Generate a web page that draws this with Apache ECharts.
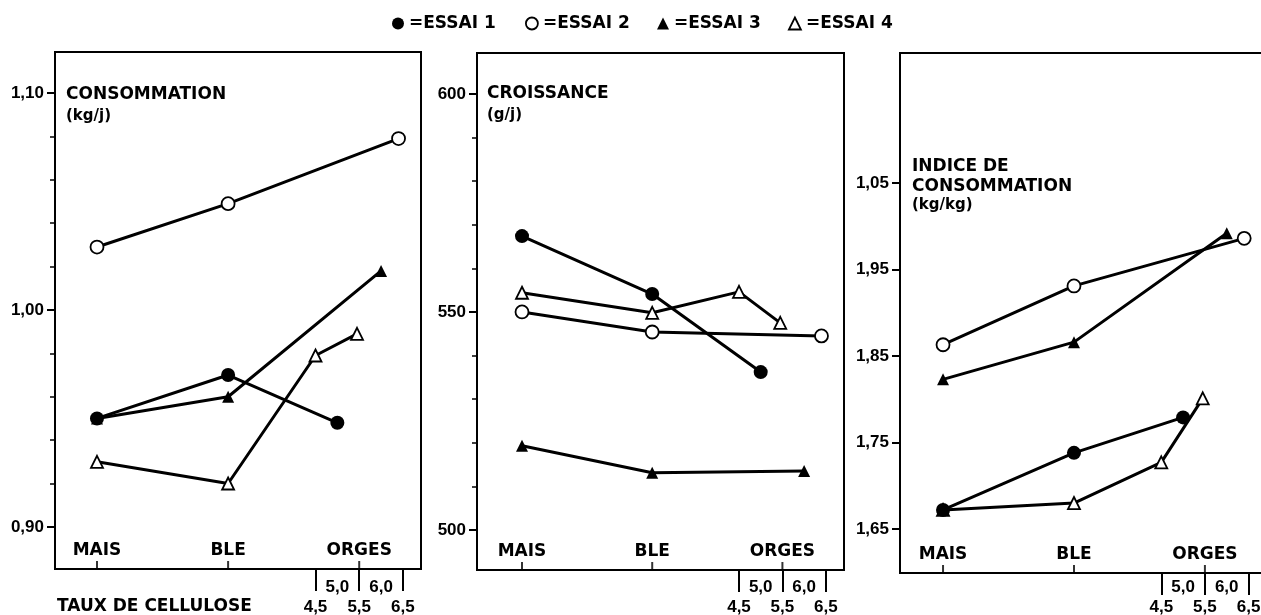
<!DOCTYPE html>
<html>
<head>
<meta charset="utf-8">
<script src="https://cdn.jsdelivr.net/npm/echarts@6/dist/echarts.min.js"></script>
<style>
html, body { margin: 0; padding: 0; background: #fff; }
#chart { width: 1261px; height: 615px; }
</style>
</head>
<body>
<div id="chart"></div>
<script>
// axe x : MAIS=0, BLE=3, orges placees par leur taux de cellulose (+0.5)
const cereals = ['MAIS', 'BLE', 'ORGES']
const cerealX = [0, 3, 6]
const ORGE_SHIFT = 0.5
const celluloseTicks = [4.5, 5.5, 6.5]
const celluloseMid = [5.0, 6.0]

// taux de cellulose des orges, par essai
const orgeEssai1 = [5.0]
const orgeEssai2 = [6.4]
const orgeEssai3 = [6.0]
const orgeEssai4 = [4.5, 5.45]

// CONSOMMATION (kg/j) : MAIS, BLE, ORGES...
const consEssai1 = [0.950, 0.970, 0.948]
const consEssai2 = [1.029, 1.049, 1.079]
const consEssai3 = [0.950, 0.960, 1.018]
const consEssai4 = [0.930, 0.920, 0.979, 0.989]
const consTicks = [0.90, 1.00, 1.10]
const consLabels = ['0,90', '1,00', '1,10']
const consMinor = [0.92, 0.94, 0.96, 0.98, 1.02, 1.04, 1.06, 1.08]

// CROISSANCE (g/j)
const croisEssai1 = [567.4, 554.1, 536.2]
const croisEssai2 = [550.0, 545.4, 544.5]
const croisEssai3 = [519.3, 513.1, 513.5]
const croisEssai4 = [554.4, 549.8, 554.6, 547.5]
const croisTicks = [500, 550, 600]
const croisLabels = ['500', '550', '600']
const croisMinor = [510, 520, 530, 540, 560, 570, 580, 590]

// INDICE DE CONSOMMATION (kg/kg)
const indEssai1 = [1.672, 1.738, 1.779]
const indEssai2 = [1.863, 1.931, 1.986]
const indEssai3 = [1.823, 1.866, 1.992]
const indEssai4 = [1.672, 1.680, 1.727, 1.801]
const indTicks = [1.65, 1.75, 1.85, 1.95, 2.05]
const indLabels = ['1,65', '1,75', '1,85', '1,95', '1,05']
const indMinor = []

const orges = [orgeEssai1, orgeEssai2, orgeEssai3, orgeEssai4]

const WORD_FONT = 'DejaVu Sans'
const NUM_FONT = 'Liberation Sans'

const fmt = v => v.toFixed(1).replace('.', ',')
const pick = (vals, labels) => v => {
  let best = 0
  vals.forEach((t, k) => { if (Math.abs(t - v) < Math.abs(vals[best] - v)) best = k })
  return labels[best]
}

const panels = [
  { grid: { left: 55, top: 52, right: 840, bottom: 46 }, xMin: -0.961, xMax: 7.414, yMin: 0.8806, yMax: 1.1189,
    lowMargin: 30, midMargin: 10,
    ticks: consTicks, labels: consLabels, minor: consMinor, series: [consEssai1, consEssai2, consEssai3, consEssai4] },
  { grid: { left: 477, top: 53, right: 417, bottom: 45 }, xMin: -1.037, xMax: 7.419, yMin: 490.8, yMax: 609.4,
    lowMargin: 29, midMargin: 9,
    ticks: croisTicks, labels: croisLabels, minor: croisMinor, series: [croisEssai1, croisEssai2, croisEssai3, croisEssai4] },
  { grid: { left: 900, top: 53, right: -12, bottom: 42 }, xMin: -0.986, xMax: 7.56, yMin: 1.5991, yMax: 2.2003,
    lowMargin: 26, midMargin: 6,
    ticks: indTicks, labels: indLabels, minor: indMinor, series: [indEssai1, indEssai2, indEssai3, indEssai4] }
]

const symbolStyles = [
  { symbol: 'circle', symbolSize: 14, itemStyle: { color: '#000' } },
  { symbol: 'circle', symbolSize: 13, itemStyle: { color: '#fff', borderColor: '#000', borderWidth: 1.8 } },
  { symbol: 'triangle', symbolSize: 12, itemStyle: { color: '#000' } },
  { symbol: 'triangle', symbolSize: 12, itemStyle: { color: '#fff', borderColor: '#000', borderWidth: 1.8 } }
]

const black = { color: '#000', width: 2 }
const grids = []
const xAxes = []
const yAxes = []
const series = []
const X_PER_GRID = 3

panels.forEach((p, i) => {
  grids.push(Object.assign({ show: true, borderColor: '#000', borderWidth: 2, backgroundColor: 'transparent',
    outerBoundsMode: 'none', containLabel: false }, p.grid))

  // axe principal : trait + noms MAIS / BLE / ORGES au-dessus
  xAxes.push({
    type: 'value', gridIndex: i, position: 'bottom', min: p.xMin, max: p.xMax,
    axisLine: { show: true, onZero: false, lineStyle: black },
    axisTick: { show: false },
    axisLabel: { inside: true, margin: 10, customValues: cerealX, formatter: pick(cerealX, cereals),
      fontFamily: WORD_FONT, fontWeight: 'bold', fontSize: 17, color: '#000' },
    splitLine: { show: false }
  })
  // taux de cellulose 4,5 5,5 6,5
  const cTicks = celluloseTicks.map(c => c + ORGE_SHIFT)
  xAxes.push({
    type: 'value', gridIndex: i, position: 'bottom', min: p.xMin, max: p.xMax,
    axisLine: { show: false, onZero: false },
    axisTick: { show: true, inside: false, length: 22, customValues: cTicks, lineStyle: black },
    axisLabel: { margin: p.lowMargin, customValues: cTicks, formatter: v => fmt(v - ORGE_SHIFT),
      fontFamily: NUM_FONT, fontWeight: 'bold', fontSize: 17, color: '#000' },
    splitLine: { show: false }
  })
  // 5,0 et 6,0 entre les crochets
  const cMid = celluloseMid.map(c => c + ORGE_SHIFT)
  xAxes.push({
    type: 'value', gridIndex: i, position: 'bottom', min: p.xMin, max: p.xMax,
    axisLine: { show: false, onZero: false },
    axisTick: { show: false },
    axisLabel: { margin: p.midMargin, customValues: cMid, formatter: v => fmt(v - ORGE_SHIFT),
      fontFamily: NUM_FONT, fontWeight: 'bold', fontSize: 17, color: '#000' },
    splitLine: { show: false }
  })

  yAxes.push({
    type: 'value', gridIndex: i, position: 'left', min: p.yMin, max: p.yMax,
    axisLine: { show: true, onZero: false, lineStyle: black },
    axisTick: { show: true, length: 8, customValues: p.ticks, lineStyle: black },
    axisLabel: { margin: 11, customValues: p.ticks, formatter: pick(p.ticks, p.labels),
      fontFamily: NUM_FONT, fontWeight: 'bold', fontSize: 17, color: '#000' },
    splitLine: { show: false }
  })
  yAxes.push({
    type: 'value', gridIndex: i, position: 'left', min: p.yMin, max: p.yMax,
    axisLine: { show: false, onZero: false },
    axisTick: { show: p.minor.length > 0, length: 5, customValues: p.minor, lineStyle: { color: '#000', width: 1.5 } },
    axisLabel: { show: false },
    splitLine: { show: false }
  })

  // reperes MAIS / BLE / ORGES tournes vers le haut, poses sur l'axe
  series.push({
    type: 'scatter', name: 'reperes', xAxisIndex: X_PER_GRID * i, yAxisIndex: 2 * i,
    data: cerealX.map(x => [x, p.yMin]),
    symbol: 'rect', symbolSize: [2, 8], symbolOffset: [0, -4], itemStyle: { color: '#000' },
    silent: true, z: 1, animation: false
  })

  // essai 4 d'abord pour que les ronds pleins passent dessus
  for (let e = 3; e >= 0; e--) {
    const xs = cerealX.slice(0, 2).concat(orges[e].map(c => c + ORGE_SHIFT))
    const ys = p.series[e]
    series.push(Object.assign({
      type: 'line', name: 'ESSAI ' + (e + 1), xAxisIndex: X_PER_GRID * i, yAxisIndex: 2 * i,
      data: ys.map((y, k) => [xs[k], y]),
      lineStyle: { color: '#000', width: 3 },
      z: 2 + (3 - e),
      emphasis: { disabled: true },
      animation: false
    }, symbolStyles[e]))
  }
})

const legendLefts = [392, 525, 657, 788]
const legends = symbolStyles.map((s, k) => ({
  data: [{ name: 'ESSAI ' + (k + 1), icon: s.symbol, itemStyle: s.itemStyle }],
  left: legendLefts[k], top: 15, padding: 0, itemWidth: 12, itemHeight: 12,
  selectedMode: false, formatter: '={name}',
  textStyle: { fontFamily: WORD_FONT, fontWeight: 'bold', fontSize: 17, color: '#000' }
}))

const titleText = { fontFamily: WORD_FONT, fontWeight: 'bold', fontSize: 17, color: '#000', lineHeight: 18 }
const subText = { fontFamily: WORD_FONT, fontWeight: 'bold', fontSize: 15, color: '#000', lineHeight: 16 }

const chart = echarts.init(document.getElementById('chart'))
chart.setOption({
  backgroundColor: '#fff',
  animation: false,
  title: [
    { text: 'CONSOMMATION', subtext: '(kg/j)', left: 66, top: 86, padding: 0, itemGap: 4, textStyle: titleText, subtextStyle: subText },
    { text: 'CROISSANCE', subtext: '(g/j)', left: 487, top: 85, padding: 0, itemGap: 4, textStyle: titleText, subtextStyle: subText },
    { text: 'INDICE DE\nCONSOMMATION', subtext: '(kg/kg)', left: 912, top: 157, padding: 0, itemGap: 0,
      textStyle: Object.assign({}, titleText, { lineHeight: 20 }), subtextStyle: subText },
    { text: 'TAUX DE CELLULOSE', left: 57, top: 598, padding: 0, textStyle: titleText }
  ],
  legend: legends,
  grid: grids,
  xAxis: xAxes,
  yAxis: yAxes,
  series: series
})
</script>
</body>
</html>
